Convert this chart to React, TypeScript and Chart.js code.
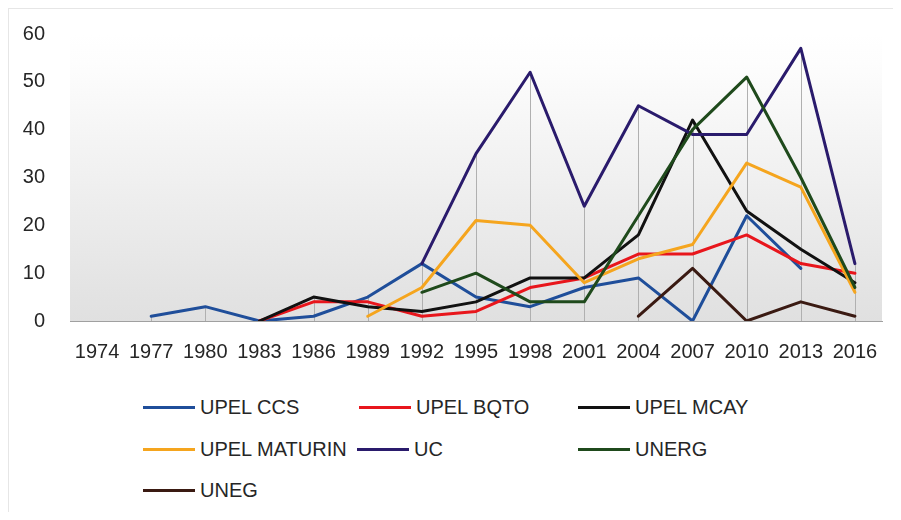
import React, { useEffect, useRef } from "react";
import { Chart, registerables } from "chart.js";

Chart.register(...registerables);

const years = ["1974", "1977", "1980", "1983", "1986", "1989", "1992", "1995", "1998", "2001", "2004", "2007", "2010", "2013", "2016"];

const upelCcs = [null, 1, 3, 0, 1, 5, 12, 5, 3, 7, 9, 0, 22, 11, null];
const upelBqto = [null, null, null, 0, 4, 4, 1, 2, 7, 9, 14, 14, 18, 12, 10];
const upelMcay = [null, null, null, 0, 5, 3, 2, 4, 9, 9, 18, 42, 23, 15, 8];
const upelMaturin = [null, null, null, null, null, 1, 7, 21, 20, 8, 13, 16, 33, 28, 6];
const uc = [null, null, null, null, null, null, 12, 35, 52, 24, 45, 39, 39, 57, 12];
const unerg = [null, null, null, null, null, null, 6, 10, 4, 4, 22, 40, 51, 30, 7];
const uneg = [null, null, null, null, null, null, null, null, null, null, 1, 11, 0, 4, 1];

const yTicks = [0, 10, 20, 30, 40, 50, 60];

const seriesNames = ["UPEL CCS", "UPEL BQTO", "UPEL MCAY", "UPEL MATURIN", "UC", "UNERG", "UNEG"];
const seriesData = [upelCcs, upelBqto, upelMcay, upelMaturin, uc, unerg, uneg];
const seriesColors = ["#1F4E9A", "#E8161C", "#111111", "#F5A51E", "#2A1B6C", "#1F4A1C", "#3A1A12"];

const legendLayout = [
  { left: 134, top: 398 },
  { left: 350, top: 398 },
  { left: 569, top: 398 },
  { left: 134, top: 440 },
  { left: 348, top: 440 },
  { left: 569, top: 440 },
  { left: 134, top: 481 },
];

const FONT = "'Liberation Sans', Arial, sans-serif";
const TEXT = "#262626";

const bgPlugin = {
  id: "bgGradient",
  beforeDraw(chart: any) {
    const { ctx, chartArea } = chart;
    const { left, right, top, bottom } = chartArea;
    const g = ctx.createLinearGradient(0, top, 0, bottom);
    g.addColorStop(0, "#ffffff");
    g.addColorStop(0.1, "#fdfdfd");
    g.addColorStop(1, "#e0e0e0");
    ctx.save();
    ctx.fillStyle = g;
    ctx.fillRect(left, top, right - left, bottom - top);
    ctx.restore();
  },
};

const dropLinePlugin = {
  id: "dropLines",
  beforeDatasetsDraw(chart: any) {
    const { ctx, scales } = chart;
    const x = scales.x;
    const y = scales.y;
    ctx.save();
    ctx.strokeStyle = "#b0b0b0";
    ctx.lineWidth = 1;
    for (let i = 0; i < years.length; i++) {
      let max: number | null = null;
      for (const d of seriesData) {
        const v = d[i];
        if (v !== null && v !== undefined && (max === null || v > max)) max = v;
      }
      if (max === null || max <= 0) continue;
      const px = Math.round(x.getPixelForValue(i)) + 0.5;
      ctx.beginPath();
      ctx.moveTo(px, y.getPixelForValue(max));
      ctx.lineTo(px, y.getPixelForValue(0));
      ctx.stroke();
    }
    ctx.restore();
  },
};

export default function App() {
  const canvasRef = useRef<HTMLCanvasElement | null>(null);

  useEffect(() => {
    if (!canvasRef.current) return;
    const chart = new Chart(canvasRef.current, {
      type: "line",
      data: {
        labels: years,
        datasets: seriesNames.map((name, i) => ({
          label: name,
          data: seriesData[i],
          borderColor: seriesColors[i],
          backgroundColor: seriesColors[i],
          borderWidth: 3,
          pointRadius: 0,
          pointHoverRadius: 0,
          tension: 0,
          fill: false,
          spanGaps: false,
          borderJoinStyle: "round",
          borderCapStyle: "round",
          order: seriesNames.length - i,
        })),
      },
      options: {
        animation: false,
        responsive: false,
        maintainAspectRatio: false,
        devicePixelRatio: 1,
        layout: { padding: { left: 0, right: 11, top: 25, bottom: 5 } },
        plugins: {
          legend: { display: false },
          tooltip: { enabled: false },
        },
        scales: {
          x: {
            offset: true,
            grid: { display: false, drawTicks: false },
            border: { display: true, color: "#a0a0a0", width: 1 },
            ticks: {
              padding: 19,
              color: TEXT,
              font: { family: FONT, size: 20 },
              maxRotation: 0,
              autoSkip: false,
            },
            afterFit: (s: any) => {
              s.height = 43;
              s.paddingLeft = 0;
              s.paddingRight = 0;
            },
          },
          y: {
            min: 0,
            max: 60,
            grid: { display: false, drawTicks: false },
            border: { display: false },
            afterBuildTicks: (s: any) => {
              s.ticks = yTicks.map((v) => ({ value: v }));
            },
            ticks: {
              padding: 25,
              color: TEXT,
              font: { family: FONT, size: 20 },
            },
            afterFit: (s: any) => {
              s.width = 61;
              s.paddingTop = 0;
              s.paddingBottom = 0;
            },
          },
        },
      },
      plugins: [bgPlugin, dropLinePlugin],
    });
    return () => chart.destroy();
  }, []);

  return (
    <div
      style={{
        position: "relative",
        width: 885,
        height: 504,
        boxSizing: "border-box",
        borderTop: "1px solid #e6e6e6",
        borderLeft: "1px solid #e6e6e6",
        background: "#ffffff",
        fontFamily: FONT,
      }}
    >
      <canvas ref={canvasRef} width={884} height={360} style={{ display: "block", width: 884, height: 360 }} />
      {seriesNames.map((name, i) => (
        <div
          key={name}
          style={{
            position: "absolute",
            left: legendLayout[i].left,
            top: legendLayout[i].top - 12,
            height: 24,
            display: "flex",
            alignItems: "center",
            whiteSpace: "nowrap",
          }}
        >
          <span style={{ display: "inline-block", width: 52, height: 3, background: seriesColors[i] }} />
          <span style={{ marginLeft: 5, fontSize: 20, color: TEXT, lineHeight: "24px" }}>{name}</span>
        </div>
      ))}
    </div>
  );
}
